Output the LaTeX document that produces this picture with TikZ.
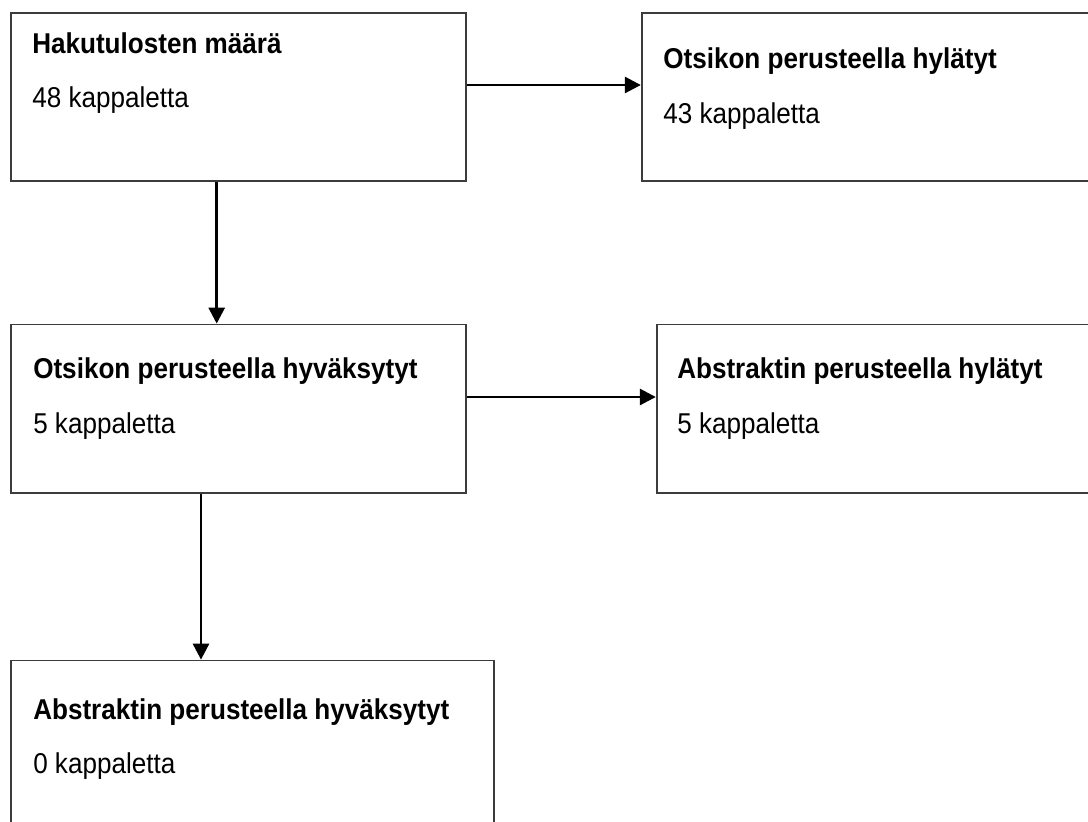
\documentclass[tikz,border=0pt]{standalone}
\usepackage{fontspec}
\setmainfont[FakeStretch=0.91]{Liberation Sans}
\usetikzlibrary{arrows.meta,fit}
\definecolor{boxline}{HTML}{3C3C3C}
\begin{document}
\begin{tikzpicture}[x=0.75pt,y=-0.75pt,
  box/.style={draw=boxline,line width=1.3pt,inner sep=0pt,fill=white},
  head/.style={anchor=base west,inner sep=0pt,font=\fontsize{21.5pt}{25pt}\selectfont\bfseries},
  count/.style={anchor=base west,inner sep=0pt,font=\fontsize{21.5pt}{25pt}\selectfont},
  flow/.style={draw=black,line width=2.1pt,-{Triangle[length=12pt,width=12pt]}}]
\useasboundingbox (0,0) rectangle (1088,821);
\clip (0,0) rectangle (1088,821);
\fill[white] (0,0) rectangle (1088,821);

% box corners (the right-hand boxes and the last box run past the edge)
\coordinate (a1) at (11,12.7);    \coordinate (a2) at (465.7,181);
\coordinate (b1) at (641.7,12.7); \coordinate (b2) at (1100,181);
\coordinate (c1) at (11,324.5);   \coordinate (c2) at (465.7,493);
\coordinate (d1) at (656.7,324.5);\coordinate (d2) at (1100,493);
\coordinate (e1) at (11,660.5);   \coordinate (e2) at (494,840);

\node[box,fit=(a1)(a2)] (a) {};
\node[box,fit=(b1)(b2)] (b) {};
\node[box,fit=(c1)(c2)] (c) {};
\node[box,fit=(d1)(d2)] (d) {};
\node[box,fit=(e1)(e2)] (e) {};

% texts
\node[head]  (ah) at (32,53)   {Hakutulosten määrä};
\node[count] (ac) at (32,107)  {48 kappaletta};
\node[head]  (bh) at (663,68)  {Otsikon perusteella hylätyt};
\node[count] (bc) at (663,123) {43 kappaletta};
\node[head]  (ch) at (33,378)  {Otsikon perusteella hyväksytyt};
\node[count] (cc) at (33,433)  {5 kappaletta};
\node[head]  (dh) at (677,378) {Abstraktin perusteella hylätyt};
\node[count] (dc) at (677,433) {5 kappaletta};
\node[head]  (eh) at (33,719)  {Abstraktin perusteella hyväksytyt};
\node[count] (ec) at (33,773)  {0 kappaletta};

% connectors
\draw[flow] (a.east |- 0,85) -- (b.west |- 0,85);
\draw[flow] (216.7,0 |- a.south) -- (216.7,0 |- c.north);
\draw[flow] (c.east |- 0,397) -- (d.west |- 0,397);
\draw[flow] (201,0 |- c.south) -- (201,0 |- e.north);
\end{tikzpicture}
\end{document}
